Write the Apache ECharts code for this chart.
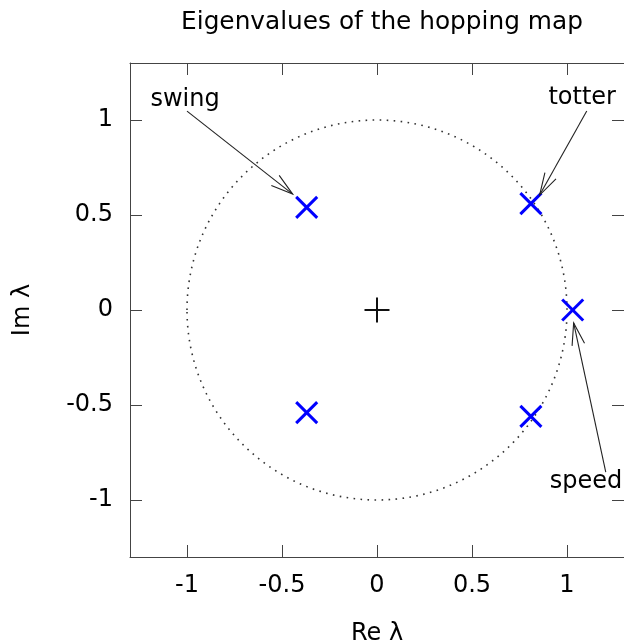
<!DOCTYPE html>
<html><head><meta charset="utf-8">
<script src="https://cdn.jsdelivr.net/npm/echarts@6/dist/echarts.min.js"></script>
<style>html,body{margin:0;padding:0;background:#fff}#c{width:624px;height:642px}</style>
</head><body><div id="c"></div>
<script>
var title = 'Eigenvalues of the hopping map';
var xTicks = [-1, -0.5, 0, 0.5, 1];
var yTicks = [-1, -0.5, 0, 0.5, 1];
var eigRe = [-0.37, -0.37, 0.81, 0.81, 1.03];
var eigIm = [0.54, -0.54, 0.56, -0.56, 0.0];
var labelNames = ['swing', 'totter', 'speed'];
var labelPos = [[-1.01, 1.105], [1.08, 1.115], [1.10, -0.905]];
var arrowTail = [[-1.0, 1.047], [1.104, 1.047], [1.204, -0.853]];
var arrowHead = [[-0.444, 0.61], [0.856, 0.605], [1.035, -0.068]];
var unitRadius = [1];
var origin = [[0, 0]];

var FONT = 'DejaVu Sans';
var FS = 24;
var eigData = eigRe.map(function (r, i) { return [r, eigIm[i]]; });
var arrowData = arrowTail.map(function (t, i) { return [t[0], t[1], arrowHead[i][0], arrowHead[i][1]]; });

var chart = echarts.init(document.getElementById('c'), null, {renderer: 'canvas'});
function fmt(v) { return String(v); }
function mkAxis(pos, ticks, labelShow, extra) {
  return Object.assign({
    type: 'value', min: -1.3, max: 1.3, interval: 0.5, position: pos,
    splitLine: {show: false},
    axisLine: {show: true, onZero: false, lineStyle: {color: '#444', width: 1}},
    axisTick: {show: true, inside: true, length: 12, lineStyle: {color: '#444', width: 1}, customValues: ticks},
    axisLabel: {show: labelShow, fontFamily: FONT, fontSize: FS, color: '#000', margin: 17,
      customValues: ticks, formatter: fmt}
  }, extra || {});
}

var option = {
  animation: false,
  title: {text: title, left: 377, textAlign: 'center', top: 5,
    textStyle: {fontFamily: FONT, fontSize: 24.8, fontWeight: 'normal', color: '#000'}},
  grid: {left: 130, right: 0, top: 63, bottom: 85, containLabel: false, outerBoundsMode: 'none'},
  xAxis: [
    mkAxis('bottom', xTicks, true, {name: 'Re λ', nameLocation: 'middle', nameGap: 65,
      nameTextStyle: {fontFamily: FONT, fontSize: FS, color: '#000'}}),
    mkAxis('top', xTicks, false)
  ],
  yAxis: [
    mkAxis('left', yTicks, true, {name: 'Im λ', nameLocation: 'middle', nameGap: 95, nameRotate: 90,
      nameTextStyle: {fontFamily: FONT, fontSize: FS, color: '#000'}}),
    mkAxis('right', yTicks, false)
  ],
  series: [
    {
      type: 'custom', coordinateSystem: 'cartesian2d', xAxisIndex: 0, yAxisIndex: 0,
      data: [[0, 0, unitRadius[0]]], silent: true, z: 1,
      renderItem: function (params, api) {
        var c = api.coord([api.value(0), api.value(1)]);
        var r = api.size([api.value(2), api.value(2)]);
        return {type: 'ellipse', shape: {cx: c[0], cy: c[1], rx: r[0], ry: r[1]},
          style: {fill: 'none', stroke: '#333', lineWidth: 1.6, lineDash: [1.6, 5.4]}};
      }
    },
    {
      type: 'custom', coordinateSystem: 'cartesian2d', data: origin, silent: true, z: 3,
      renderItem: function (params, api) {
        var c = api.coord([api.value(0), api.value(1)]);
        var h = 12.5;
        return {type: 'group', children: [
          {type: 'line', shape: {x1: c[0] - h, y1: c[1], x2: c[0] + h, y2: c[1]}, style: {stroke: '#111', lineWidth: 2}},
          {type: 'line', shape: {x1: c[0], y1: c[1] - h, x2: c[0], y2: c[1] + h}, style: {stroke: '#111', lineWidth: 2}}
        ]};
      }
    },
    {
      type: 'custom', coordinateSystem: 'cartesian2d', data: eigData, silent: true, z: 4,
      renderItem: function (params, api) {
        var c = api.coord([api.value(0), api.value(1)]);
        var h = 10.5;
        return {type: 'group', children: [
          {type: 'line', shape: {x1: c[0] - h, y1: c[1] - h, x2: c[0] + h, y2: c[1] + h}, style: {stroke: '#0000ff', lineWidth: 3}},
          {type: 'line', shape: {x1: c[0] - h, y1: c[1] + h, x2: c[0] + h, y2: c[1] - h}, style: {stroke: '#0000ff', lineWidth: 3}}
        ]};
      }
    },
    {
      type: 'custom', coordinateSystem: 'cartesian2d', data: arrowData, silent: true, z: 5,
      renderItem: function (params, api) {
        var a = api.coord([api.value(0), api.value(1)]);
        var b = api.coord([api.value(2), api.value(3)]);
        var ang = Math.atan2(b[1] - a[1], b[0] - a[0]);
        var L = 23, w = 0.28;
        var p1 = [b[0] - L * Math.cos(ang - w), b[1] - L * Math.sin(ang - w)];
        var p2 = [b[0] - L * Math.cos(ang + w), b[1] - L * Math.sin(ang + w)];
        return {type: 'group', children: [
          {type: 'line', shape: {x1: a[0], y1: a[1], x2: b[0], y2: b[1]}, style: {stroke: '#222', lineWidth: 1.1}},
          {type: 'polyline', shape: {points: [p1, b, p2]}, style: {stroke: '#222', lineWidth: 1.1, fill: 'none'}}
        ]};
      }
    },
    {
      type: 'custom', coordinateSystem: 'cartesian2d', silent: true, z: 6,
      data: labelPos.map(function (p, i) { return [p[0], p[1], i]; }),
      renderItem: function (params, api) {
        var c = api.coord([api.value(0), api.value(1)]);
        return {type: 'text', x: c[0], y: c[1],
          style: {text: labelNames[api.value(2)], fontFamily: FONT, fontSize: FS, fill: '#000',
            align: 'center', verticalAlign: 'middle'}};
      }
    }
  ]
};
chart.setOption(option);
</script></body></html>
